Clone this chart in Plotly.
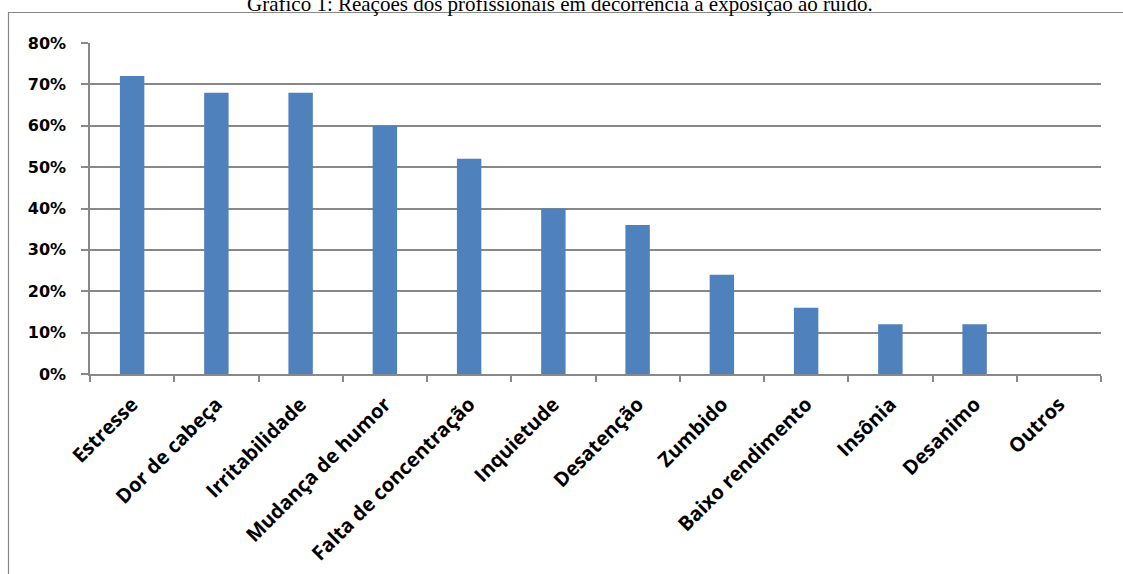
import plotly.graph_objects as go

categories = ["Estresse", "Dor de cabeça", "Irritabilidade", "Mudança de humor",
              "Falta de concentração", "Inquietude", "Desatenção", "Zumbido",
              "Baixo rendimento", "Insônia", "Desanimo", "Outros"]
values = [0.72, 0.68, 0.68, 0.60, 0.52, 0.40, 0.36, 0.24, 0.16, 0.12, 0.12, 0.0]
title_text = "Gráfico 1: Reações dos profissionais em decorrência à exposição ao ruído."

W, H = 1123, 574
L, R, T, B = 90, 22, 43, 200
pw, ph = W - L - R, H - T - B

def px_x(p):
    return (p - L) / pw

def px_y(p):
    return (H - B - p) / ph

fig = go.Figure(go.Bar(x=categories, y=values, marker=dict(color="#4F81BD", line=dict(width=0)),
                       width=0.29))

fig.update_layout(
    width=W, height=H,
    margin=dict(l=L, r=R, t=T, b=B, autoexpand=False),
    paper_bgcolor="white", plot_bgcolor="white",
    showlegend=False,
    xaxis=dict(tickangle=-45, tickson="boundaries", ticks="outside", ticklen=6,
               tickcolor="#888888", tickwidth=1.5, showline=True, linecolor="#888888",
               linewidth=1.5, showgrid=False, ticklabelstandoff=9, automargin=False,
               tickfont=dict(family="Open Sans", size=20, color="black", weight="bold")),
    yaxis=dict(range=[0, 0.8], dtick=0.1, tickformat=".0%", ticks="outside", ticklen=7,
               tickcolor="#888888", tickwidth=1.5, showline=True, linecolor="#888888",
               linewidth=1.5, showgrid=True, gridcolor="#888888", gridwidth=1.5,
               zeroline=False, ticklabelstandoff=12, automargin=False,
               tickfont=dict(family="DejaVu Sans", size=16, color="black", weight="bold")),
    annotations=[dict(text=title_text, xref="paper", yref="paper",
                      x=px_x(560), y=px_y(18), xanchor="center", yanchor="bottom",
                      showarrow=False,
                      font=dict(family="Liberation Serif", size=21, color="black"))],
    shapes=[
        dict(type="line", xref="paper", yref="paper", x0=px_x(8), x1=px_x(W + 5),
             y0=px_y(12.5), y1=px_y(12.5), line=dict(color="#888888", width=1.2)),
        dict(type="line", xref="paper", yref="paper", x0=px_x(8.5), x1=px_x(8.5),
             y0=px_y(12.5), y1=px_y(H + 5), line=dict(color="#888888", width=1.2)),
    ],
)

fig.write_html("out.html")
